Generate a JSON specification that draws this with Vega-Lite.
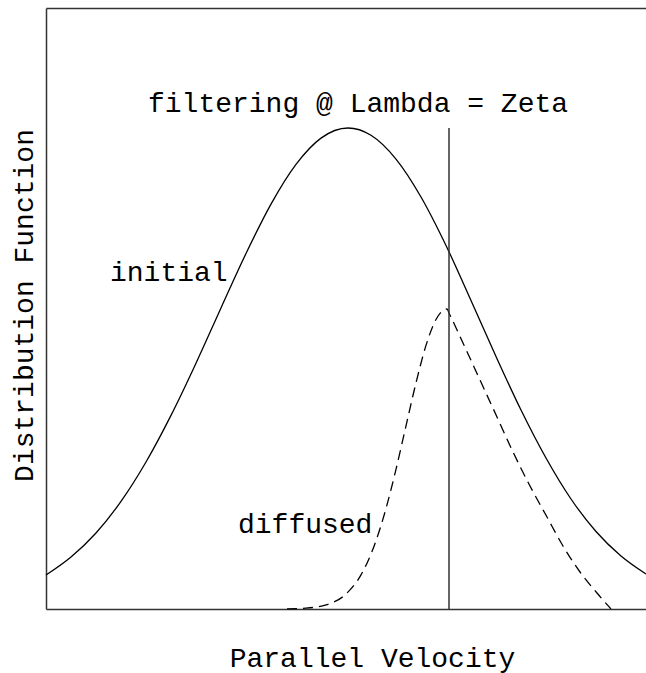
{
  "$schema": "https://vega.github.io/schema/vega-lite/v6.json",
  "width": 600,
  "height": 601,
  "autosize": {"type": "none"},
  "padding": {"left": 46, "top": 8, "right": 0, "bottom": 64},
  "config": {
    "view": {"stroke": null},
    "font": "Liberation Mono",
    "axis": {
      "domainColor": "#333",
      "domainWidth": 1.5,
      "ticks": false,
      "labels": false,
      "grid": false,
      "titleFont": "Liberation Mono",
      "titleFontSize": 28,
      "titleFontWeight": "normal",
      "titleColor": "#000"
    }
  },
  "datasets": {
    "initial": [
      {"x": 0, "y": 34}, {"x": 25, "y": 52}, {"x": 50, "y": 76}, {"x": 75, "y": 107.6},
      {"x": 100, "y": 147}, {"x": 125, "y": 193.6}, {"x": 150, "y": 245.8}, {"x": 175, "y": 301.1},
      {"x": 200, "y": 355.5}, {"x": 225, "y": 404.9}, {"x": 250, "y": 444.6}, {"x": 275, "y": 470.9},
      {"x": 302, "y": 481}, {"x": 325, "y": 473.7}, {"x": 350, "y": 449.9}, {"x": 375, "y": 412},
      {"x": 400, "y": 363.5}, {"x": 425, "y": 308.5}, {"x": 450, "y": 252.5}, {"x": 475, "y": 199},
      {"x": 500, "y": 151}, {"x": 525, "y": 110}, {"x": 550, "y": 77.5}, {"x": 575, "y": 53},
      {"x": 600, "y": 35}
    ],
    "diffused": [
      {"x": 241, "y": 0.2}, {"x": 260, "y": 0.9}, {"x": 280, "y": 4.1}, {"x": 300, "y": 15},
      {"x": 315, "y": 34.1}, {"x": 330, "y": 68.2}, {"x": 340, "y": 100.5}, {"x": 350, "y": 139.7},
      {"x": 360, "y": 183.1}, {"x": 370, "y": 226.2}, {"x": 380, "y": 263.6}, {"x": 390, "y": 289.5},
      {"x": 397, "y": 298.6}, {"x": 401, "y": 300}, {"x": 403, "y": 296},
      {"x": 417, "y": 266}, {"x": 434, "y": 229}, {"x": 451, "y": 192}, {"x": 467, "y": 157},
      {"x": 484, "y": 123}, {"x": 501, "y": 92}, {"x": 517, "y": 63}, {"x": 534, "y": 37},
      {"x": 551, "y": 16}, {"x": 565, "y": 0}
    ],
    "filter": [{"x": 403, "y": 0, "y2": 481}],
    "labels": [
      {"x": 102, "y": 497, "label": "filtering @ Lambda = Zeta"},
      {"x": 64, "y": 328, "label": "initial"},
      {"x": 192, "y": 76, "label": "diffused"}
    ]
  },
  "resolve": {"axis": {"x": "independent", "y": "independent"}},
  "layer": [
    {
      "data": {"name": "initial"},
      "mark": {"type": "line", "color": "#000", "strokeWidth": 1.3, "interpolate": "monotone"},
      "encoding": {
        "x": {"field": "x", "type": "quantitative", "scale": {"domain": [0, 600], "nice": false, "zero": false},
          "axis": {"title": "Parallel Velocity", "titleX": 326, "titleY": 57, "titleBaseline": "alphabetic", "titleAlign": "center", "titleAnchor": null}},
        "y": {"field": "y", "type": "quantitative", "scale": {"domain": [0, 601], "nice": false, "zero": false},
          "axis": {"title": "Distribution Function", "titleX": -14, "titleY": 297, "titleBaseline": "alphabetic", "titleAlign": "center", "titleAngle": -90}}
      }
    },
    {
      "data": {"name": "diffused"},
      "mark": {"type": "line", "color": "#000", "strokeWidth": 1.3, "strokeDash": [10, 6], "interpolate": "monotone"},
      "encoding": {
        "x": {"field": "x", "type": "quantitative", "axis": {"orient": "top", "title": null}},
        "y": {"field": "y", "type": "quantitative", "axis": null}
      }
    },
    {
      "data": {"name": "filter"},
      "mark": {"type": "rule", "color": "#333", "strokeWidth": 1.5},
      "encoding": {
        "x": {"field": "x", "type": "quantitative", "axis": null},
        "y": {"field": "y", "type": "quantitative", "axis": null},
        "y2": {"field": "y2"}
      }
    },
    {
      "data": {"name": "labels"},
      "mark": {"type": "text", "font": "Liberation Mono", "fontSize": 28, "baseline": "alphabetic", "align": "left", "color": "#000"},
      "encoding": {
        "x": {"field": "x", "type": "quantitative", "axis": null},
        "y": {"field": "y", "type": "quantitative", "axis": null},
        "text": {"field": "label"}
      }
    }
  ]
}
